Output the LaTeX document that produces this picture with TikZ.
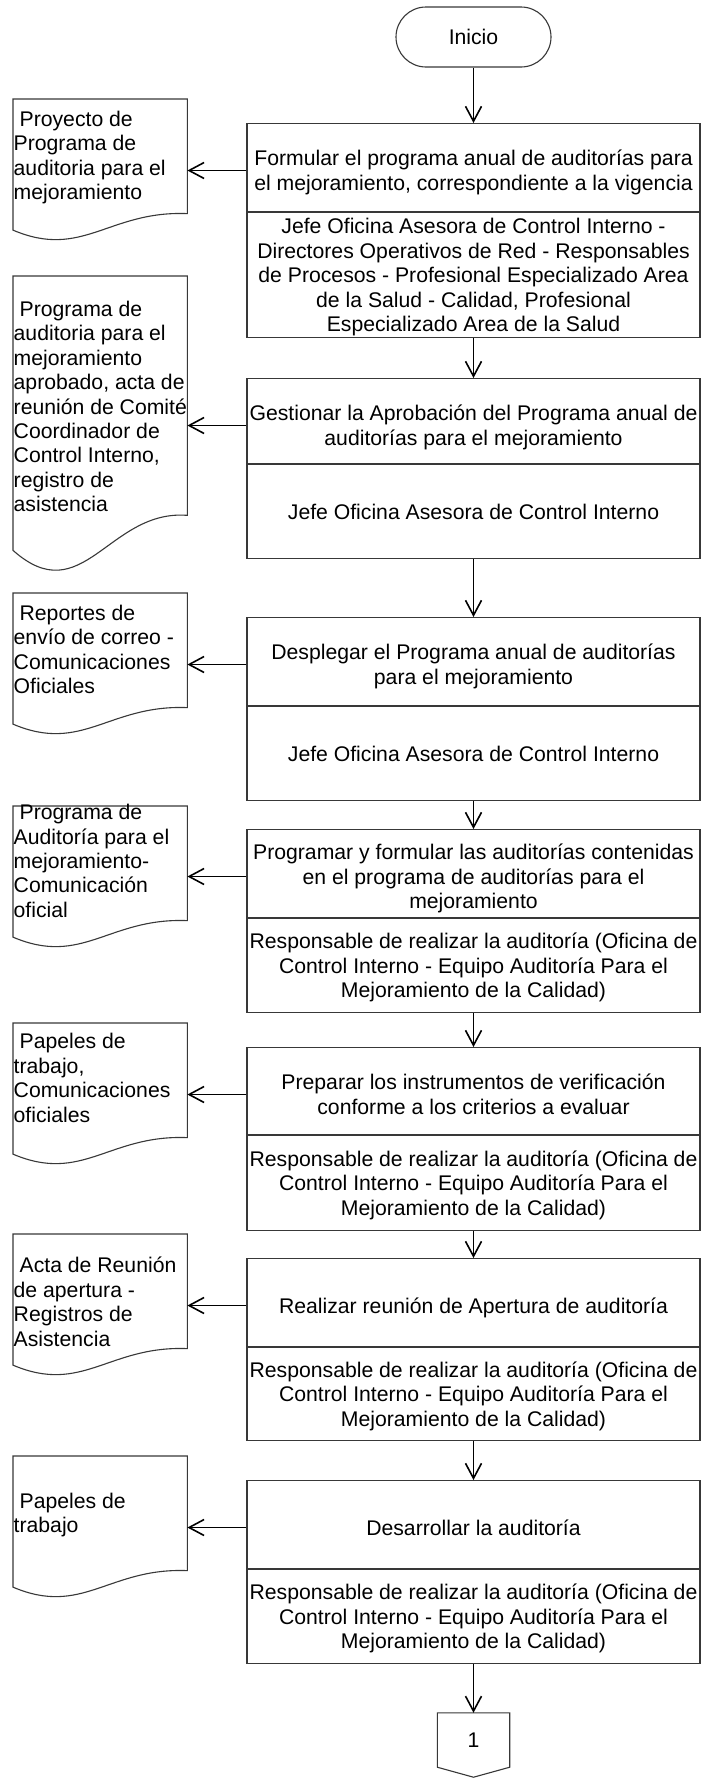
\documentclass[tikz,border=0pt]{standalone}
\usepackage{fontspec}
\setmainfont{Liberation Sans}
\usetikzlibrary{arrows.meta,calc,shapes.misc}
\newcommand\vs{\rule[-4.7pt]{0pt}{24.4pt}}
\newcommand\docshape[3]{%
  \pgfmathsetmacro\dR{#2+0.81*#3}%
  \pgfmathsetmacro\dL{\dR+0.12*#3}%
  \pgfmathsetmacro\dA{\dR-0.02*#3}%
  \pgfmathsetmacro\dB{\dR+0.33*#3}%
  \pgfmathsetmacro\dH{0.81*#3}%
  \node[inner sep=0pt, minimum width=174pt, minimum height=\dH pt, anchor=north west] (#1) at (13,#2) {};%
  \draw[shp] (#1.north west) -- (#1.north east) -- (#1.south east) .. controls (108.7,\dA) and (82.6,\dB) .. (13,\dL) -- cycle;%
}
\begin{document}
\begin{tikzpicture}[x=1pt,y=-1pt,
  font=\fontsize{21.2pt}{24.4pt}\selectfont,
  shp/.style={draw=black!78, line width=1.1pt},
  arr/.style={draw=black, line width=1.6pt, -{Straight Barb[length=15pt,width=16pt]}},
  boxa/.style={shp, rectangle, minimum width=453pt, inner sep=0pt, align=center, anchor=north},
  boxt/.style={inner sep=0pt, align=center},
  doctext/.style={inner sep=0pt, align=left, anchor=west},
]
\useasboundingbox[fill=white] (0,0) rectangle (701,1778);

% start
\node[shp, rounded rectangle, minimum width=155pt, minimum height=60pt, inner sep=0pt] (ini) at (473.5,37) {Inicio};

% process boxes (upper part: activity, lower part: responsible)
\node[boxa, minimum height=88pt] (b1a) at (473.5,123) {};
\node[boxt] (b1t) at ([yshift=-47.5pt]b1a.north) {\vs Formular el programa anual de auditorías para\\\vs el mejoramiento, correspondiente a la vigencia};
\node[boxa, minimum height=125pt] (b1b) at (b1a.south) {\vs Jefe Oficina Asesora de Control Interno -\\\vs Directores Operativos de Red - Responsables\\\vs de Procesos - Profesional Especializado Area\\\vs de la Salud - Calidad, Profesional\\\vs Especializado Area de la Salud};

\node[boxa, minimum height=85pt] (b2a) at (473.5,378) {};
\node[boxt] (b2t) at ([yshift=-47.5pt]b2a.north) {\vs Gestionar la Aprobación del Programa anual de\\\vs auditorías para el mejoramiento};
\node[boxa, minimum height=94pt] (b2b) at (b2a.south) {\vs Jefe Oficina Asesora de Control Interno};

\node[boxa, minimum height=88pt] (b3a) at (473.5,617) {};
\node[boxt] (b3t) at ([yshift=-47.5pt]b3a.north) {\vs Desplegar el Programa anual de auditorías\\\vs para el mejoramiento};
\node[boxa, minimum height=94pt] (b3b) at (b3a.south) {\vs Jefe Oficina Asesora de Control Interno};

\node[boxa, minimum height=88pt] (b4a) at (473.5,829) {};
\node[boxt] (b4t) at ([yshift=-47.5pt]b4a.north) {\vs Programar y formular las auditorías contenidas\\\vs en el programa de auditorías para el\\\vs mejoramiento};
\node[boxa, minimum height=94pt] (b4b) at (b4a.south) {\vs Responsable de realizar la auditoría (Oficina de\\\vs Control Interno - Equipo Auditoría Para el\\\vs Mejoramiento de la Calidad)};

\node[boxa, minimum height=87pt] (b5a) at (473.5,1047) {};
\node[boxt] (b5t) at ([yshift=-47.5pt]b5a.north) {\vs Preparar los instrumentos de verificación\\\vs conforme a los criterios a evaluar};
\node[boxa, minimum height=95pt] (b5b) at (b5a.south) {\vs Responsable de realizar la auditoría (Oficina de\\\vs Control Interno - Equipo Auditoría Para el\\\vs Mejoramiento de la Calidad)};

\node[boxa, minimum height=88pt] (b6a) at (473.5,1258) {};
\node[boxt] (b6t) at ([yshift=-47.5pt]b6a.north) {\vs Realizar reunión de Apertura de auditoría};
\node[boxa, minimum height=93pt] (b6b) at (b6a.south) {\vs Responsable de realizar la auditoría (Oficina de\\\vs Control Interno - Equipo Auditoría Para el\\\vs Mejoramiento de la Calidad)};

\node[boxa, minimum height=88pt] (b7a) at (473.5,1480) {};
\node[boxt] (b7t) at ([yshift=-47.5pt]b7a.north) {\vs Desarrollar la auditoría};
\node[boxa, minimum height=94pt] (b7b) at (b7a.south) {\vs Responsable de realizar la auditoría (Oficina de\\\vs Control Interno - Equipo Auditoría Para el\\\vs Mejoramiento de la Calidad)};

% off-page connector
\node[inner sep=0pt, minimum width=72pt, minimum height=54pt] (c1) at (473.5,1740) {1};
\draw[shp] (c1.north west) -- (c1.north east) -- (c1.south east) -- ($(c1.south)+(0,10)$) -- (c1.south west) -- cycle;

% documents
\docshape{d1}{99}{141}
\docshape{d2}{276}{295}
\docshape{d3}{593}{141}
\docshape{d4}{806}{141}
\docshape{d5}{1023}{141}
\docshape{d6}{1234}{141}
\docshape{d7}{1456}{141}

\node[doctext] (d1t) at (13.5,155.5) {\vs\hspace*{0.28em}Proyecto de\\\vs Programa de\\\vs auditoria para el\\\vs mejoramiento};
\node[doctext] (d2t) at (13.5,406.5) {\vs\hspace*{0.28em}Programa de\\\vs auditoria para el\\\vs mejoramiento\\\vs aprobado, acta de\\\vs reunión de Comité\\\vs Coordinador de\\\vs Control Interno,\\\vs registro de\\\vs asistencia};
\node[doctext] (d3t) at (13.5,649.5) {\vs\hspace*{0.28em}Reportes de\\\vs envío de correo -\\\vs Comunicaciones\\\vs Oficiales};
\node[doctext] (d4t) at (13.5,861) {\vs\hspace*{0.28em}Programa de\\\vs Auditoría para el\\\vs mejoramiento-\\\vs Comunicación\\\vs oficial};
\node[doctext] (d5t) at (13.5,1078) {\vs\hspace*{0.28em}Papeles de\\\vs trabajo,\\\vs Comunicaciones\\\vs oficiales};
\node[doctext] (d6t) at (13.5,1302) {\vs\hspace*{0.28em}Acta de Reunión\\\vs de apertura -\\\vs Registros de\\\vs Asistencia};
\node[doctext] (d7t) at (13.5,1513) {\vs\hspace*{0.28em}Papeles de\\\vs trabajo};

% main flow
\draw[arr] (ini.south) -- (ini.south |- b1a.north);
\draw[arr] (b1b.south) -- (b2a.north);
\draw[arr] (b2b.south) -- (b3a.north);
\draw[arr] (b3b.south) -- (b4a.north);
\draw[arr] (b4b.south) -- (b5a.north);
\draw[arr] (b5b.south) -- (b6a.north);
\draw[arr] (b6b.south) -- (b7a.north);
\draw[arr] (b7b.south) -- (c1.north);

% outputs
\foreach \b/\t/\d in {b1a/b1t/d1,b2a/b2t/d2,b3a/b3t/d3,b4a/b4t/d4,b5a/b5t/d5,b6a/b6t/d6,b7a/b7t/d7}{
  \draw[arr] (\t.center -| \b.west) -- (\t.center -| \d.east);
}
\end{tikzpicture}
\end{document}
